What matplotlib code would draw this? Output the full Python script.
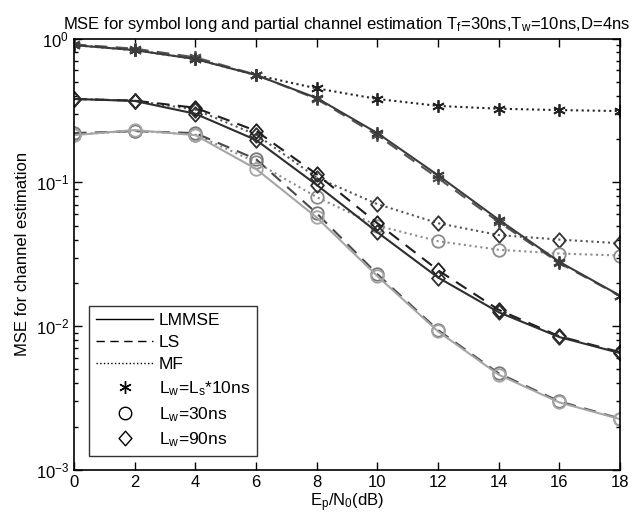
import matplotlib
matplotlib.use("Agg")
import matplotlib.pyplot as plt
from matplotlib.lines import Line2D
from matplotlib.path import Path

plt.rcParams['font.family'] = ['Liberation Sans', 'DejaVu Sans']
plt.rcParams['mathtext.default'] = 'regular'

snr_db = [0, 2, 4, 6, 8, 10, 12, 14, 16, 18]

# L_w = L_s*10ns
lmmse_ls10 = [0.90, 0.83, 0.72, 0.557, 0.386, 0.220, 0.112, 0.055, 0.028, 0.0163]
ls_ls10 = [0.91, 0.85, 0.74, 0.560, 0.380, 0.212, 0.107, 0.053, 0.0275, 0.0162]
mf_ls10 = [0.90, 0.83, 0.72, 0.557, 0.450, 0.380, 0.340, 0.325, 0.318, 0.313]

# L_w = 30ns
lmmse_30 = [0.213, 0.231, 0.213, 0.124, 0.057, 0.0223, 0.0092, 0.0046, 0.00295, 0.00226]
ls_30 = [0.220, 0.227, 0.220, 0.145, 0.061, 0.0230, 0.0094, 0.0047, 0.0030, 0.00228]
mf_30 = [0.215, 0.228, 0.215, 0.138, 0.079, 0.050, 0.039, 0.034, 0.032, 0.031]

# L_w = 90ns
lmmse_90 = [0.38, 0.368, 0.30, 0.197, 0.096, 0.045, 0.0218, 0.0125, 0.0084, 0.0065]
ls_90 = [0.38, 0.37, 0.33, 0.228, 0.114, 0.052, 0.0245, 0.0130, 0.0085, 0.0066]
mf_90 = [0.38, 0.37, 0.32, 0.215, 0.108, 0.0706, 0.052, 0.043, 0.040, 0.0377]

xticks = list(range(0, 19, 2))

fig = plt.figure(figsize=(6.35, 5.24), dpi=100)
ax = fig.add_axes([0.1165, 0.103, 0.86, 0.8235])

asterisk = (6, 2, 0)
# slightly tall diamond outline
diamond = Path([(0, 1), (0.88, 0), (0, -1), (-0.88, 0), (0, 1)],
               [Path.MOVETO, Path.LINETO, Path.LINETO, Path.LINETO, Path.CLOSEPOLY])
ms = 9
dms = 10.5
mew = 1.3
lw = 1.5

c_star = '#3c3c3c'
c_dia = '#2e2e2e'
c_circ = '#a6a6a6'

# MF (dotted) curves first, so the estimators sit on top
ax.plot(snr_db, mf_ls10, ':', color='#222222', lw=lw, marker=asterisk, ms=ms, mew=mew, mfc='none')
ax.plot(snr_db, mf_90, ':', color='#555555', lw=lw, marker=diamond, ms=dms, mew=mew, mfc='none', mec='#333333')
ax.plot(snr_db, mf_30, ':', color='#8c8c8c', lw=lw, marker='o', ms=ms, mew=mew, mfc='none', mec='#8c8c8c')

# LS (dashed)
ax.plot(snr_db, ls_ls10, '--', color='#555555', lw=lw, dashes=(6, 4), marker=asterisk, ms=ms, mew=mew, mec='#555555')
ax.plot(snr_db, ls_90, '--', color='#1e1e1e', lw=lw, dashes=(6, 4), marker=diamond, ms=dms, mew=mew, mfc='none', mec='#1e1e1e')
ax.plot(snr_db, ls_30, '--', color='#4a4a4a', lw=lw, dashes=(6, 4), marker='o', ms=ms, mew=mew, mfc='none', mec='#777777')

# LMMSE (solid)
ax.plot(snr_db, lmmse_ls10, '-', color=c_star, lw=lw, marker=asterisk, ms=ms, mew=mew, mec=c_star)
ax.plot(snr_db, lmmse_90, '-', color=c_dia, lw=lw, marker=diamond, ms=dms, mew=mew, mfc='none', mec=c_dia)
ax.plot(snr_db, lmmse_30, '-', color=c_circ, lw=lw, marker='o', ms=ms, mew=mew, mfc='none', mec=c_circ)

ax.set_yscale('log')
ax.set_xlim(0, 18)
ax.set_ylim(1e-3, 1)
ax.set_xticks(xticks)
ax.set_xticklabels([str(t) for t in xticks])
ax.tick_params(which='both', direction='in', top=True, right=True, labelsize=12)
ax.tick_params(which='major', length=6, width=1)
ax.tick_params(which='minor', length=3, width=1)
for s in ax.spines.values():
    s.set_linewidth(1.2)

ax.set_xlabel('E$_p$/N$_0$(dB)', fontsize=12, labelpad=1)
ax.set_ylabel('MSE for channel estimation', fontsize=12, labelpad=4)
ax.set_title('MSE for symbol long and partial channel estimation T$_f$=30ns,T$_w$=10ns,D=4ns',
             fontsize=12, pad=7)

handles = [
    Line2D([], [], color='black', lw=1, ls='-'),
    Line2D([], [], color='black', lw=1, ls='--', dashes=(6, 4)),
    Line2D([], [], color='black', lw=1, ls=':'),
    Line2D([], [], color='black', ls='none', marker=asterisk, ms=9, mew=1),
    Line2D([], [], color='black', ls='none', marker='o', ms=9, mew=1, mfc='none'),
    Line2D([], [], color='black', ls='none', marker=diamond, ms=10.5, mew=1, mfc='none'),
]
labels = ['LMMSE', 'LS', 'MF', 'L$_w$=L$_s$*10ns', 'L$_w$=30ns', 'L$_w$=90ns']
leg = ax.legend(handles, labels, loc='lower left', bbox_to_anchor=(0.012, 0.012),
                fontsize=12.5, frameon=True, fancybox=False, edgecolor='black',
                handlelength=3.3, labelspacing=0.4, borderpad=0.4, handletextpad=0.3)
leg.get_frame().set_linewidth(1.0)

fig.savefig('out.png', dpi=100)
